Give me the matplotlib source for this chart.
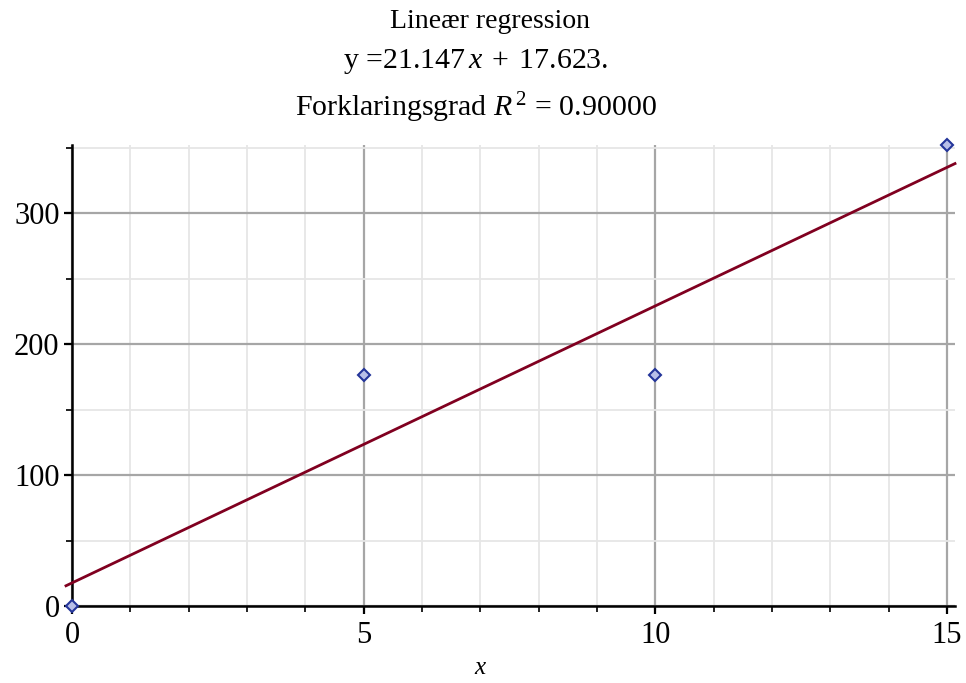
import matplotlib
matplotlib.use("Agg")
import matplotlib.pyplot as plt
import numpy as np
from matplotlib.ticker import MultipleLocator

x_data = [0, 5, 10, 15]
y_data = [0, 176, 176, 352]
slope = 21.147
intercept = 17.623
r2 = 0.90000
x_ticks = [0, 5, 10, 15]
y_ticks = [0, 100, 200, 300]

plt.rcParams['font.family'] = ['Liberation Serif', 'DejaVu Serif']
plt.rcParams['mathtext.fontset'] = 'custom'
plt.rcParams['mathtext.rm'] = 'Liberation Serif'
plt.rcParams['mathtext.it'] = 'Liberation Serif:italic'

fig = plt.figure(figsize=(9.66, 6.83), dpi=100)
W, H = 966, 683
ax_l, ax_r, ax_t, ax_b = 66, 955, 145, 610
ax = fig.add_axes([ax_l / W, 1 - ax_b / H, (ax_r - ax_l) / W, (ax_b - ax_t) / H])

px_per_x = (947 - 72) / 15.0
xmin = -(72 - ax_l) / px_per_x
xmax = 15 + (ax_r - 947) / px_per_x
px_per_y = (606 - 213) / 300.0
ymax = (606 - ax_t) / px_per_y
ymin = -(ax_b - 606) / px_per_y
ax.set_xlim(xmin, xmax)
ax.set_ylim(ymin, ymax)

ax.xaxis.set_major_locator(MultipleLocator(5))
ax.xaxis.set_minor_locator(MultipleLocator(1))
ax.yaxis.set_major_locator(MultipleLocator(100))
ax.yaxis.set_minor_locator(MultipleLocator(50))
ax.set_xticks(x_ticks)
ax.set_yticks(y_ticks)

ax.grid(which='minor', color='#e6e6e6', linewidth=1.3)
ax.grid(which='major', color='#a6a6a6', linewidth=1.6)
ax.set_axisbelow(True)

for s in ['top', 'right']:
    ax.spines[s].set_visible(False)
ax.spines['left'].set_position(('data', 0))
ax.spines['bottom'].set_position(('data', 0))
ax.spines['left'].set_bounds(0, ymax)
ax.spines['bottom'].set_bounds(0, xmax)
for s in ['left', 'bottom']:
    ax.spines[s].set_linewidth(1.8)
    ax.spines[s].set_color('black')

ax.tick_params(which='major', direction='out', length=6, width=1.6, labelsize=22, pad=3)
ax.tick_params(which='minor', direction='out', length=4, width=1.2)
ax.tick_params(axis='x', pad=5)

xl = np.array([xmin, xmax])
ax.plot(xl, slope * xl + intercept, color='#800020', linewidth=2.0, zorder=3, clip_on=False)
ax.plot(x_data, y_data, linestyle='none', marker='D', markersize=6,
        markerfacecolor='#b8bfe8', markeredgecolor='#24359a', markeredgewidth=1.5,
        zorder=4, clip_on=False)

fig.text(481 / W, 1 - 668 / H, '$x$', ha='center', va='center', fontsize=18)

fig.text(490 / W, 1 - 21 / H, 'Lineær regression', ha='center', va='center', fontsize=20)
fig.text(476 / W, 1 - 62 / H, 'y =21.147$\\,x\\;+\\;$17.623.', ha='center', va='center', fontsize=21.5)
fig.text(476 / W, 1 - 108 / H, 'Forklaringsgrad $R^{\\,2}$ = %.5f' % r2, ha='center', va='center', fontsize=21.5)

fig.savefig('out.png', dpi=100)
